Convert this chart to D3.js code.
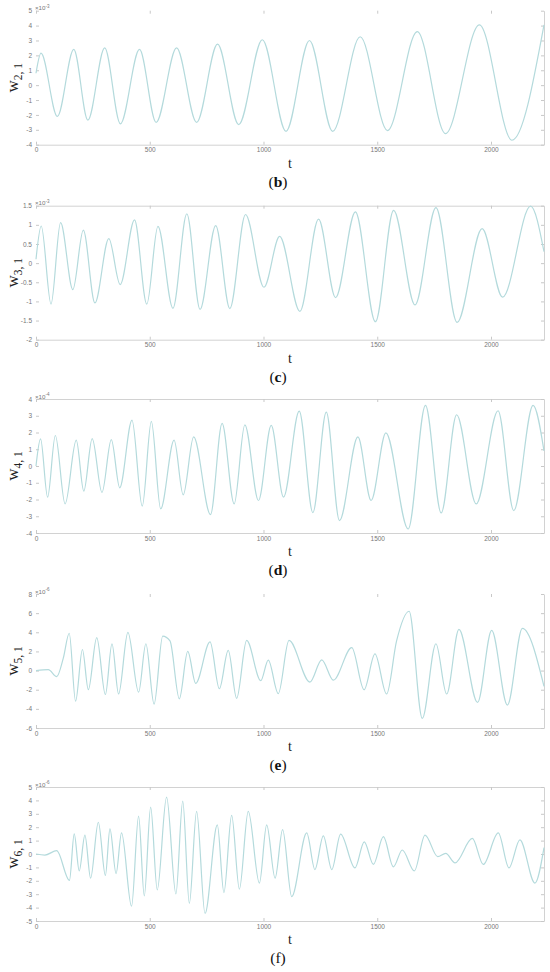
<!DOCTYPE html>
<html>
<head>
<meta charset="utf-8">
<script src="https://cdn.jsdelivr.net/npm/d3@7"></script>
<style>
  html, body { margin: 0; padding: 0; background: #fff; }
  svg { display: block; }
  .tick text { font-family: "Liberation Sans", Arial, sans-serif; font-size: 6.5px; fill: #777; }
  .tick line { stroke: #c8c8c8; }
  .domain { stroke: #d2d2d2; }
</style>
</head>
<body>
<svg id="chart" width="550" height="972"></svg>
<script>
// ---------------- data ----------------
const tTicks = [0, 500, 1000, 1500, 2000];
const tMax = 2233;

const panelLetters = ["b", "c", "d", "e", "f"];
const ySubscripts = ["2, 1", "3, 1", "4, 1", "5, 1", "6, 1"];
const yExponents = ["-3", "-3", "-4", "-6", "-6"];

const yTicksB = [-4, -3, -2, -1, 0, 1, 2, 3, 4, 5];
const yTicksC = [-2, -1.5, -1, -0.5, 0, 0.5, 1, 1.5];
const yTicksD = [-4, -3, -2, -1, 0, 1, 2, 3, 4];
const yTicksE = [-6, -4, -2, 0, 2, 4, 6, 8];
const yTicksF = [-5, -4, -3, -2, -1, 0, 1, 2, 3, 4, 5];

// w2,1 (x10^-3)
const tB = [0, 22, 94, 166, 228, 302, 371, 455, 528, 618, 706, 798, 891, 995, 1099, 1202, 1304, 1425, 1545, 1676, 1800, 1949, 2092, 2233];
const wB = [0.8, 2.15, -2.1, 2.4, -2.35, 2.5, -2.6, 2.4, -2.5, 2.5, -2.5, 2.75, -2.65, 3.05, -3.1, 3.0, -3.1, 3.25, -3.05, 3.6, -3.25, 4.05, -3.7, 4.05];

// w3,1 (x10^-3)
const tC = [0, 23, 66, 108, 162, 208, 259, 320, 370, 433, 487, 536, 602, 663, 721, 790, 852, 921, 1002, 1071, 1160, 1242, 1317, 1404, 1492, 1572, 1666, 1758, 1851, 1961, 2051, 2174, 2233];
const wC = [0.1, 0.97, -1.07, 1.06, -0.69, 0.86, -1.04, 0.64, -0.56, 1.13, -1.07, 0.96, -1.18, 1.29, -1.21, 0.98, -1.19, 1.27, -0.63, 0.7, -1.26, 1.15, -0.9, 1.34, -1.53, 1.38, -1.09, 1.45, -1.55, 0.9, -0.89, 1.49, 0.3];

// w4,1 (x10^-4)
const tD = [0, 20, 51, 85, 128, 177, 210, 247, 290, 331, 368, 422, 467, 507, 548, 607, 647, 693, 767, 818, 871, 918, 978, 1034, 1088, 1157, 1217, 1276, 1334, 1415, 1473, 1538, 1636, 1712, 1781, 1849, 1935, 2031, 2100, 2185, 2233];
const wD = [0, 1.62, -1.86, 1.82, -2.26, 1.54, -1.5, 1.64, -1.58, 1.58, -1.3, 2.74, -2.4, 2.66, -2.56, 1.54, -1.72, 1.74, -2.9, 2.54, -2.26, 2.46, -2.06, 2.42, -1.86, 3.28, -2.78, 3.22, -3.26, 1.74, -2.06, 1.98, -3.76, 3.62, -2.8, 3.06, -2.26, 3.3, -2.66, 3.62, 0.9];

// w5,1 (x10^-6)
const tE = [0, 54, 91, 120, 146, 174, 204, 230, 267, 305, 334, 363, 404, 451, 483, 519, 557, 589, 630, 667, 702, 765, 806, 845, 882, 926, 988, 1021, 1065, 1112, 1204, 1256, 1307, 1388, 1442, 1490, 1541, 1585, 1640, 1698, 1758, 1805, 1859, 1941, 2003, 2072, 2138, 2233];
const wE = [0, 0.1, -0.63, 1.3, 3.9, -3.2, 2.2, -2.0, 3.44, -2.5, 2.8, -2.45, 4.0, -2.25, 2.8, -3.5, 3.6, 3.1, -2.95, 2.0, -1.33, 3.0, -1.9, 2.1, -2.9, 3.15, -1.05, 1.1, -2.4, 3.15, -1.2, 1.12, -1.0, 2.4, -2.0, 1.75, -2.45, 3.1, 6.2, -5.0, 2.8, -2.45, 4.3, -3.33, 4.2, -3.6, 4.4, -1.65];

// w6,1 (x10^-6)
const tF = [0, 39, 91, 147, 168, 190, 215, 240, 274, 305, 325, 352, 376, 420, 451, 476, 504, 533, 574, 615, 645, 674, 706, 743, 797, 826, 860, 894, 933, 982, 1014, 1051, 1084, 1124, 1190, 1226, 1263, 1300, 1339, 1402, 1443, 1483, 1527, 1571, 1610, 1663, 1710, 1766, 1801, 1842, 1918, 1966, 2032, 2079, 2127, 2193, 2233];
const wF = [0, -0.08, 0.25, -1.97, 1.5, -1.26, 1.41, -1.8, 2.37, -1.6, 1.87, -1.46, 1.57, -3.9, 2.83, -3.13, 3.5, -2.68, 4.24, -2.98, 3.94, -3.69, 3.18, -4.44, 2.17, -2.88, 2.88, -2.63, 3.18, -2.17, 2.17, -1.8, 1.82, -3.18, 1.57, -1.16, 1.36, -1.16, 1.49, -1.04, 0.91, -0.78, 1.29, -0.96, 0.3, -1.26, 1.41, -0.2, 0.05, -0.66, 1.16, -0.78, 1.57, -1.04, 1.06, -2.17, 0.48];

const seriesT = [tB, tC, tD, tE, tF];
const seriesW = [wB, wC, wD, wE, wF];
const yTickSets = [yTicksB, yTicksC, yTicksD, yTicksE, yTicksF];

// ---------------- layout ----------------
const svg = d3.select("#chart");
const left = 36, right = 544;
const panelTops = [10.7, 205.7, 399, 594, 787];
const panelH = 134;
const topSpine = [false, true, true, false, true];
const boldLetter = [true, true, true, true, false];
const lineColor = "#b4dadc";

panelLetters.forEach((letter, i) => {
  const top = panelTops[i], bottom = top + panelH;
  const yt = yTickSets[i];
  const x = d3.scaleLinear().domain([0, tMax]).range([left, right]);
  const y = d3.scaleLinear().domain([yt[0], yt[yt.length - 1]]).range([bottom, top]);
  const g = svg.append("g");

  // bottom axis
  g.append("g").attr("transform", `translate(0,${bottom})`)
    .call(d3.axisBottom(x).tickValues(tTicks).tickSizeInner(-3).tickSizeOuter(0).tickPadding(3).tickFormat(d3.format("d")));
  // top axis (ticks only)
  const at = g.append("g").attr("transform", `translate(0,${top})`)
    .call(d3.axisTop(x).tickValues(tTicks).tickSizeInner(-3).tickSizeOuter(0).tickFormat(""));
  if (!topSpine[i]) at.select(".domain").remove();
  // left axis
  const al = g.append("g").attr("transform", `translate(${left},0)`)
    .call(d3.axisLeft(y).tickValues(yt).tickSizeInner(-3).tickSizeOuter(0).tickPadding(4).tickFormat(d => String(d).replace("\u2212", "-")));
  al.select(".domain").remove();
  // right axis
  g.append("g").attr("transform", `translate(${right},0)`)
    .call(d3.axisRight(y).tickValues(yt).tickSizeInner(-3).tickSizeOuter(0).tickFormat(""));

  // exponent label
  const ex = g.append("text").attr("x", left - 1).attr("y", top - 0.5)
    .attr("font-family", "Liberation Sans, Arial, sans-serif").attr("font-size", 6.2).attr("fill", "#777");
  ex.append("tspan").text("\u00d710");
  ex.append("tspan").attr("dy", -2.5).attr("font-size", 4.5).text(yExponents[i]);

  // series line
  const data = seriesT[i].map((t, k) => [t, seriesW[i][k]]);
  g.append("path").datum(data)
    .attr("fill", "none").attr("stroke", lineColor).attr("stroke-width", 1.2)
    .attr("d", d3.line().x(d => x(d[0])).y(d => y(d[1])).curve(d3.curveMonotoneX));

  // y label
  const yl = g.append("text")
    .attr("transform", `translate(18,${(top + bottom) / 2}) rotate(-90)`)
    .attr("text-anchor", "middle")
    .attr("font-family", "Liberation Serif, Times New Roman, serif").attr("fill", "#222");
  yl.append("tspan").attr("font-size", 17).text("w");
  yl.append("tspan").attr("font-size", 11.5).attr("dy", 4).text(ySubscripts[i]);

  // x label
  g.append("text").attr("x", (left + right) / 2).attr("y", bottom + 23)
    .attr("text-anchor", "middle")
    .attr("font-family", "Liberation Serif, Times New Roman, serif").attr("font-size", 14).attr("fill", "#222")
    .text("t");

  // panel letter
  const pl = g.append("text").attr("x", 278).attr("y", bottom + 42)
    .attr("text-anchor", "middle")
    .attr("font-family", "Liberation Serif, Times New Roman, serif").attr("font-size", 15.5).attr("fill", "#111");
  pl.append("tspan").text("(");
  pl.append("tspan").attr("font-weight", boldLetter[i] ? "bold" : "normal").text(letter);
  pl.append("tspan").text(")");
});
</script>
</body>
</html>
